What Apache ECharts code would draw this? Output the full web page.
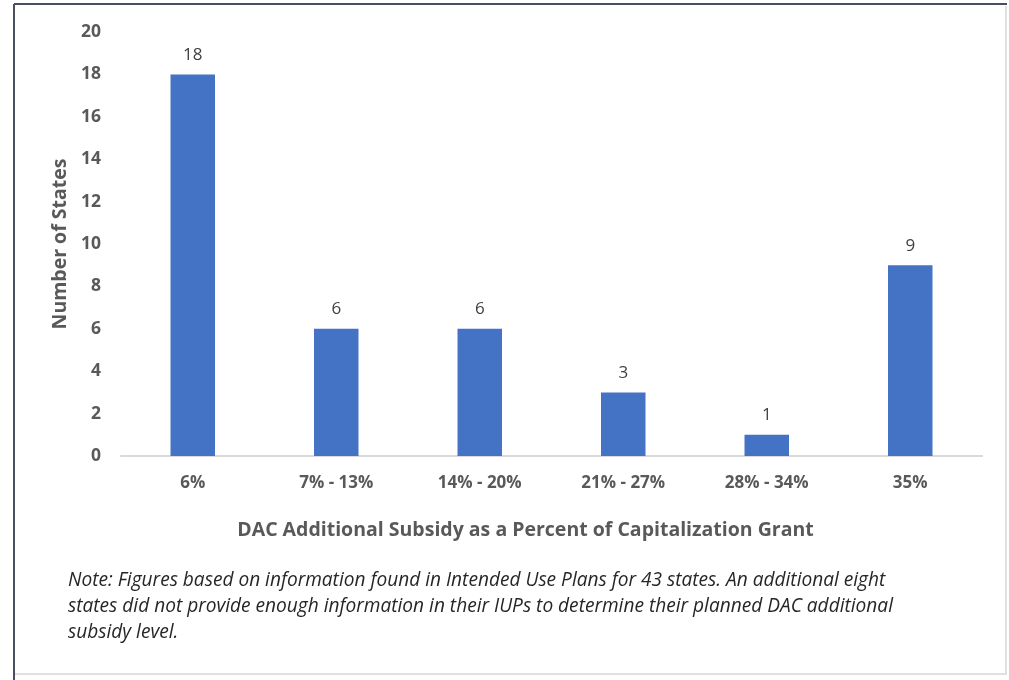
<!DOCTYPE html>
<html>
<head>
<meta charset="utf-8">
<script src="https://cdn.jsdelivr.net/npm/echarts@6/dist/echarts.min.js"></script>
<style>
html,body{margin:0;padding:0;background:#fff;}
#c{width:1009px;height:680px;}
</style>
</head>
<body>
<div id="c"></div>
<script>
const categories = ['6%', '7% - 13%', '14% - 20%', '21% - 27%', '28% - 34%', '35%'];
const values = [18, 6, 6, 3, 1, 9];
const yTicks = [0, 2, 4, 6, 8, 10, 12, 14, 16, 18, 20];
const noteLines = [
  'Note: Figures based on information found in Intended Use Plans for 43 states. An additional eight',
  'states did not provide enough information in their IUPs to determine their planned DAC additional',
  'subsidy level.'
];

const FONT = '"Open Sans", "Noto Sans", sans-serif';
const chart = echarts.init(document.getElementById('c'));
chart.setOption({
  backgroundColor: '#fff',
  animation: false,
  grid: { left: 121, right: 27, top: 32, bottom: 224 },
  xAxis: {
    type: 'category',
    data: categories,
    name: 'DAC Additional Subsidy as a Percent of Capitalization Grant',
    nameLocation: 'middle',
    nameGap: 64,
    nameTextStyle: { color: '#595959', fontSize: 19.5, fontWeight: 'bold', fontFamily: FONT, padding: [0, 52, 0, 0] },
    axisLine: { lineStyle: { color: '#d9d9d9', width: 2 } },
    axisTick: { show: false },
    axisLabel: { color: '#595959', fontSize: 17, fontWeight: 'bold', fontFamily: FONT, margin: 19 }
  },
  yAxis: {
    type: 'value',
    min: yTicks[0],
    max: yTicks[yTicks.length - 1],
    interval: 2,
    name: 'Number of States',
    nameLocation: 'middle',
    nameGap: 49,
    nameTextStyle: { color: '#595959', fontSize: 19.5, fontWeight: 'bold', fontFamily: FONT },
    axisLine: { show: false },
    axisTick: { show: false },
    splitLine: { show: false },
    axisLabel: { color: '#595959', fontSize: 17.5, fontWeight: 'bold', fontFamily: FONT, margin: 20 }
  },
  series: [{
    type: 'bar',
    data: values,
    barWidth: '31%',
    itemStyle: { color: '#4472C4' },
    label: { show: true, position: 'top', distance: 11, color: '#404040', fontSize: 17, fontFamily: FONT }
  }],
  graphic: [
    { type: 'line', shape: { x1: 14, y1: 4, x2: 1007, y2: 4 }, style: { stroke: '#4a4f5e', lineWidth: 2 } },
    { type: 'line', shape: { x1: 14, y1: 4, x2: 14, y2: 680 }, style: { stroke: '#4a4f5e', lineWidth: 2 } },
    { type: 'line', shape: { x1: 1006, y1: 6, x2: 1006, y2: 674 }, style: { stroke: '#e0e0e0', lineWidth: 2 } },
    { type: 'line', shape: { x1: 15, y1: 674, x2: 1007, y2: 674 }, style: { stroke: '#e0e0e0', lineWidth: 2 } },
    ...noteLines.map((t, i) => ({
      type: 'text', left: 68, top: 571 + i * 26,
      style: { text: t, fill: '#262626', fontSize: 19.1, fontStyle: 'italic', fontFamily: FONT }
    }))
  ]
});
</script>
</body>
</html>
